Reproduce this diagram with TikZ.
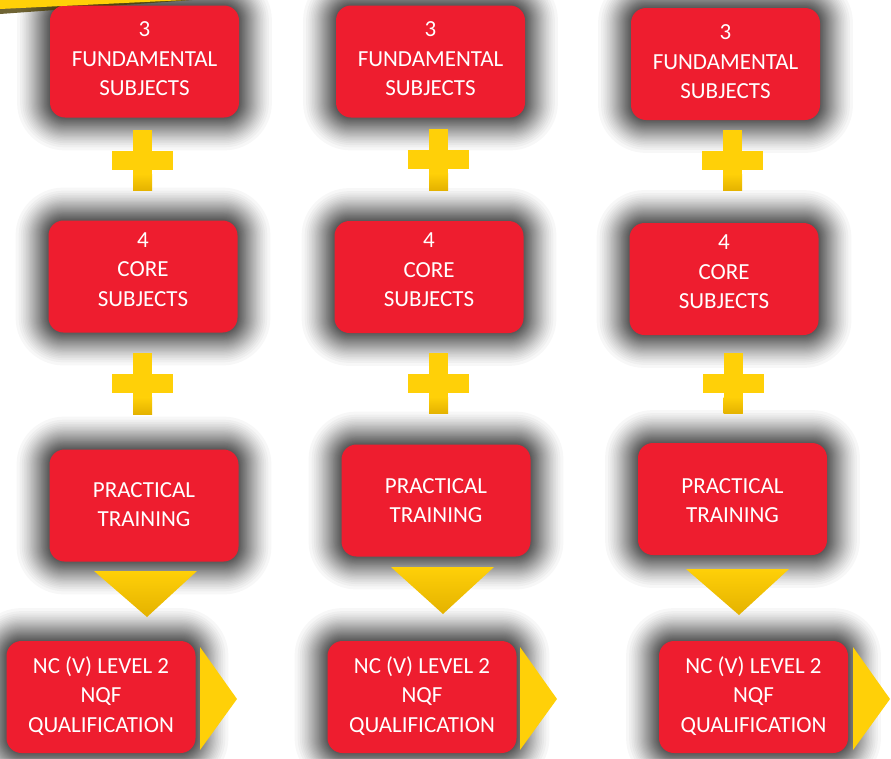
\documentclass[tikz,border=0pt]{standalone}
\usepackage{fontspec}
\setmainfont{Carlito}
\usetikzlibrary{calc}
\pgfdeclarelayer{bg}
\pgfsetlayers{bg,main}
\definecolor{boxred}{RGB}{238,29,47}
\definecolor{plusyellow}{RGB}{255,208,8}
\definecolor{darkyellow}{RGB}{228,178,0}
\tikzset{
  box/.style={fill=boxred, rounded corners=15pt, minimum width=189pt,
    minimum height=112pt, inner sep=0pt},
  boxtext/.style={text=white, align=center, inner sep=0pt,
    font=\fontsize{23}{29.5}\selectfont},
  plussign/.pic={
    \fill[plusyellow] (-30.5,-9.5) rectangle (30.5,9.5);
    \fill[plusyellow] (-9.5,-30.5) rectangle (9.5,30.5);
    \shade[top color=plusyellow, bottom color=darkyellow] (-9.5,14) rectangle (9.5,30.5);
  },
  downtri/.style={top color=plusyellow, middle color=plusyellow, bottom color=darkyellow},
  righttri/.style={fill=plusyellow},
}
\begin{document}
\begin{tikzpicture}[x=1pt,y=-1pt]
\useasboundingbox (0,0) rectangle (891,758);

% column 1
\node[box] (f1) at (144.5,61.5) {};
\node[box] (c1) at (143,276.5) {};
\node[box] (p1) at (144,505.5) {};
\node[box] (q1) at (101,697) {};
% column 2
\node[box] (f2) at (430.5,61.5) {};
\node[box] (c2) at (429,277) {};
\node[box] (p2) at (436,500.5) {};
\node[box] (q2) at (422,697) {};
% column 3
\node[box] (f3) at (725.5,64) {};
\node[box] (c3) at (724,279) {};
\node[box] (p3) at (732.5,499) {};
\node[box] (q3) at (753.5,697) {};

% texts
\node[boxtext] (f1t) at ([yshift=2.5pt]f1.center) {3\\FUNDAMENTAL\\SUBJECTS};
\node[boxtext] (f2t) at ([yshift=2.5pt]f2.center) {3\\FUNDAMENTAL\\SUBJECTS};
\node[boxtext] (f3t) at ([yshift=2pt]f3.center) {3\\FUNDAMENTAL\\SUBJECTS};
\node[boxtext] (c1t) at ([yshift=7pt]c1.center) {4\\CORE\\SUBJECTS};
\node[boxtext] (c2t) at ([yshift=7pt]c2.center) {4\\CORE\\SUBJECTS};
\node[boxtext] (c3t) at ([yshift=7pt]c3.center) {4\\CORE\\SUBJECTS};
\node[boxtext] (p1t) at ([yshift=1pt]p1.center) {PRACTICAL\\TRAINING};
\node[boxtext] (p2t) at (p2.center) {PRACTICAL\\TRAINING};
\node[boxtext] (p3t) at ([yshift=-1.5pt]p3.center) {PRACTICAL\\TRAINING};
\node[boxtext] (q1t) at ([yshift=1pt]q1.center) {NC (V) LEVEL 2\\NQF\\QUALIFICATION};
\node[boxtext] (q2t) at ([yshift=1pt]q2.center) {NC (V) LEVEL 2\\NQF\\QUALIFICATION};
\node[boxtext] (q3t) at ([yshift=1pt]q3.center) {NC (V) LEVEL 2\\NQF\\QUALIFICATION};

% plus signs
\pic at (142.5,160) {plussign};
\pic at (142.5,383.5) {plussign};
\pic at (438.5,159.5) {plussign};
\pic at (438.5,383) {plussign};
\pic at (732.5,160) {plussign};
\pic at (733,383) {plussign};

% down triangles
\shade[downtri] (94,571) -- (197,571) -- (147,617) -- cycle;
\shade[downtri] (391,567) -- (494,567) -- (443,614) -- cycle;
\shade[downtri] (686,569) -- (789,569) -- (739,615) -- cycle;

% right triangles
\fill[righttri] (200,647) -- (237,699) -- (200,750) -- cycle;
\fill[righttri] (520,647) -- (557,699) -- (520,750) -- cycle;
\fill[righttri] (853,647) -- (890,699) -- (853,750) -- cycle;

% top-left band
\fill[plusyellow] (0,0) -- (186,0) -- (0,9) -- cycle;

\begin{pgfonlayer}{bg}
  \fill[white] (0,0) rectangle (891,758);
  \foreach \n in {f1,c1,p1,q1,f2,c2,p2,q2,f3,c3,p3,q3}{
    \foreach \i in {1,...,30}{
      \pgfmathsetmacro\d{40*(1-sqrt(\i/30))}
      \pgfmathsetmacro\rr{15+\d}
      \fill[black, fill opacity=0.03, rounded corners=\rr pt, shift={(0pt,-2pt)}]
        ($(\n.north west)+(-\d pt,\d pt)$) rectangle ($(\n.south east)+(\d pt,-\d pt)$);
    }
  }
  \fill[black!70!plusyellow, fill opacity=0.8] (0,0) -- (192,0) -- (0,14) -- cycle;
\end{pgfonlayer}
\end{tikzpicture}
\end{document}
